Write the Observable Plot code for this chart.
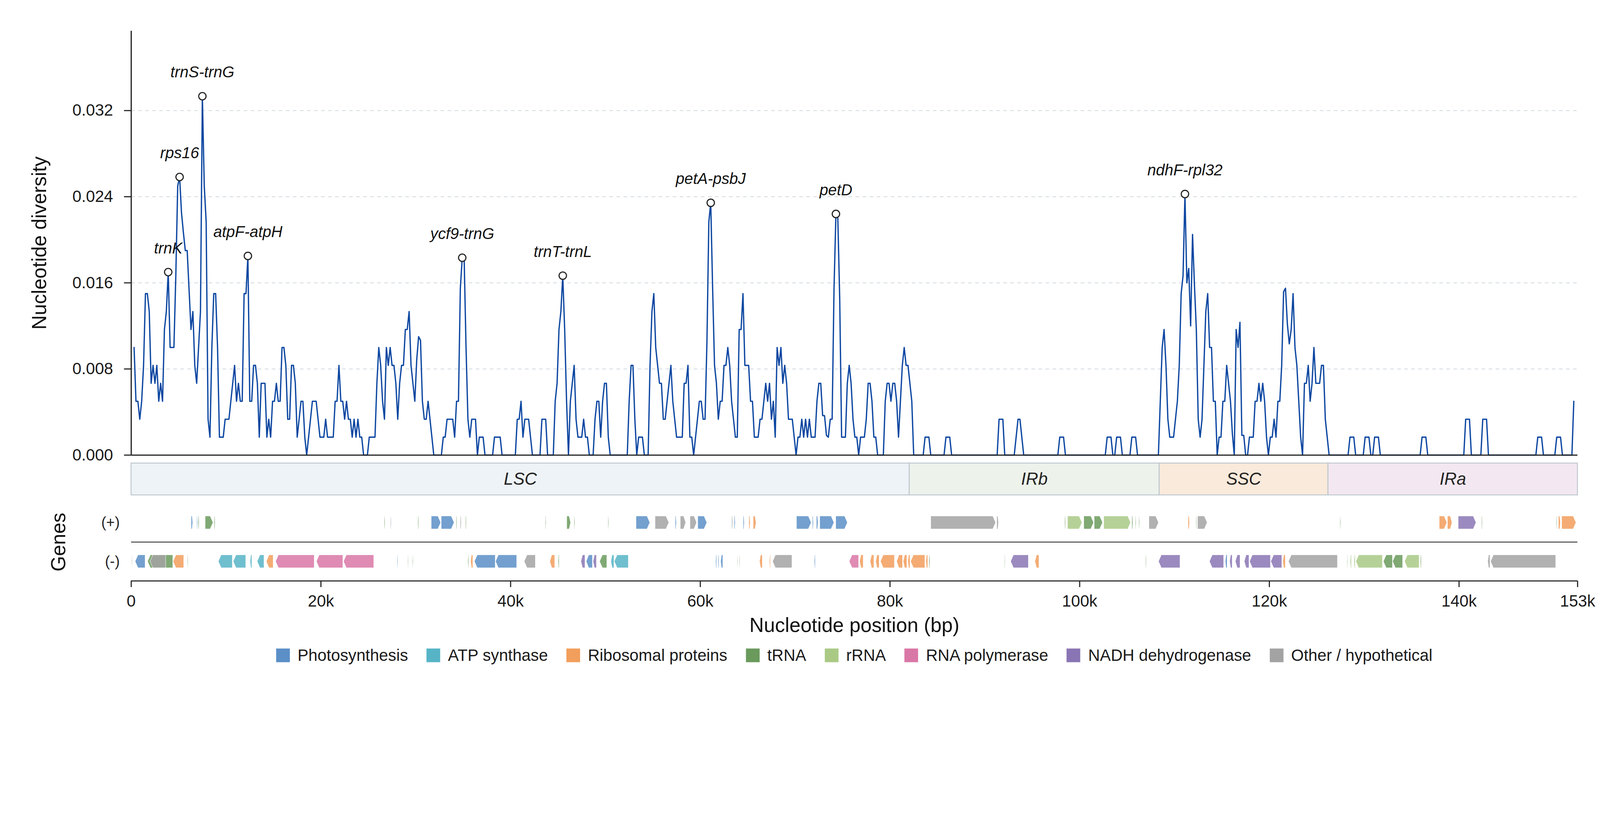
<!DOCTYPE html>
<html><head><meta charset="utf-8">
<script src="https://cdn.jsdelivr.net/npm/d3@7"></script>
<script src="https://cdn.jsdelivr.net/npm/@observablehq/plot@0.6"></script>
<style>
html,body{margin:0;padding:0;background:#fff;overflow:hidden;font-family:"Liberation Sans",Arial,sans-serif;}
#chart{width:4322px;transform-origin:0 0;background:#fff;}
#chart svg{display:block;overflow:visible;}
.legend{display:flex;justify-content:center;align-items:center;column-gap:50px;box-sizing:border-box;width:4322px;padding:0 61px 0 354px;height:60px;font-size:44px;color:#1a1a1a;}
.legend .item{display:flex;align-items:center;white-space:nowrap;}
.legend .sw{width:37px;height:37px;margin-right:21px;}
</style></head><body><div id="chart"></div>
<script>
// ---------------- data ----------------
const genomeLength = 152500;
const windowStart = 300;   // centre of first 600-bp window
const windowStep = 200;    // sliding step
const piUnit = 1 / 600;    // one segregating site per 600-bp window
const piLevels = [
6,3,3,2,3,5,9,9,8,4, 5,4,5,3,4,3,7,8,10.2,6, 6,6,10,15,15.5,13.5,12.4,11.4,11.4,9.2,
7,8,5,4,6,8,20,15,13,2, 1,6,9,9,6,1,1,1,2,2, 2,3,4,5,3,4,3,3,9,9,
11.1,3,3,5,5,4,1,4,4,4, 1,2,1,3,3,4,3,3,6,6, 5,2,2,5,5,4,1,2,3,3,
1,0,1,2,3,3,3,2,1,1, 1,2,1,1,1,1,3,3,5,3, 3,2,3,2,2,1,2,1,2,1,
1,0,0,0,1,1,1,1,4,6, 5,3,2,6,5,6,5,5,4,2, 4,5,5,7,7,8,5,4,3,5.3,
6.6,6.4,3,2,2,3,2,1,0,0, 0,0,0,1,1,2,2,2,2,1, 3,3,9.3,11,11,6,2,1,2,2,
2,0,1,1,1,0,0,0,0,0, 1,1,1,1,0,0,0,0,0,0, 0,0,2,2,3,1,2,2,2,1,
0,0,0,0,0,2,2,2,0,0, 0,0,3,4,7,8,10,7,3,0, 3,4,5,2,1,1,1,2,1,1,
0,0,0,2,3,3,1,3,4,4, 1,0,0,0,0,0,0,0,0,0, 0,3,5,5,2,0,1,1,1,0,
0,0,5,8,9,6,5,4,4,2, 2,3,4,5,3,2,1,1,1,1, 4,4,5,1,1,0,1,2,3,3,
2,2,6.3,13,14.06,9.3,5,4,2,3, 3,5,5,6,5,3,2,1,1,7, 7,9,5,5,5,3,3,1,1,1,
2,2,3,4,3,4,2,3,1,6, 5,6,4,5,4,2,2,2,1,0, 1,1,2,1,2,1,2,1,1,1,
3,4,4,2.2,2.2,1.1,1,2,2,9.3, 13.44,13.2,8.7,1,1,1,4,5,4,2, 1,1,0,1,1,1,2,4,4,3,
1,1,0,0,0,0,3,4,4,3, 4,4,3,1,3,5,6,5,5,4, 3,0,0,0,0,0,0,1,1,1,
0,0,0,0,0,0,0,0,1,1, 1,0,0,0,0,0,0,0,0,0, 0,0,0,0,0,0,0,0,0,0,
0,0,0,0,0,0,2,2,2,0, 0,0,0,0,0,1,2,2,1,0, 0,0,0,0,0,0,0,0,0,0,
0,0,0,0,0,0,0,0,1,1, 1,0,0,0,0,0,0,0,0,0, 0,0,0,0,0,0,0,0,0,0,
0,0,0,1,1,1,0,0,1,1, 1,0,0,0,0,0,1,1,1,0, 0,0,0,0,0,0,0,0,0,0,
0,3,6,7,5,2,1,1,1,2, 3,5,9,10,14.55,9.6,10.4,7.2,12.3,9.5, 7,2,1,2,5,8,9,6,6,3,
3,0,1,1,3,3,5,4,3,1.2, 0,7,6,7.4,1.1,1.1,0,0,1,1, 1,3,3,4,3,4,3,1,0,1,
1,2,1,3,3,5,9.1,9.3,7.3,6.2, 7,9,6,5,3,1,0,4,4,5, 3,4,6,4,4,4,5,5,2,1,
0,0,0,0,0,0,0,0,0,0, 0,1,1,1,0,0,0,0,0,1, 1,1,0,0,1,1,1,0,0,0,
0,0,0,0,0,0,0,0,0,0, 0,0,0,0,0,0,0,0,0,1, 1,1,0,0,0,0,0,0,0,0,
0,0,0,0,0,0,0,0,0,0, 0,0,2,2,2,0,0,0,0,0, 0,2,2,2,0,0,0,0,0,0,
0,0,0,0,0,0,0,0,0,0, 0,0,0,0,0,0,0,0,0,0, 1,1,1,0,0,0,0,0,0,0,
1,1,1,0,0,0,0,0,0,3
];

const hotspotNames = ["trnK","rps16","trnS-trnG","atpF-atpH","ycf9-trnG","trnT-trnL","petA-psbJ","petD","ndhF-rpl32"];
const hotspotPos   = [3900, 5100, 7500, 12300, 34900, 45500, 61100, 74300, 111100];

const regionNames  = ["LSC","IRb","SSC","IRa"];
const regionStart  = [0, 82050, 108400, 126200];
const regionEnd    = [82050, 108400, 126200, 152500];
const regionColors = ["#eef3f7","#edf3eb","#faeadb","#f3e8f1"];

const geneGroups  = ["Photosynthesis","ATP synthase","Ribosomal proteins","tRNA","rRNA","RNA polymerase","NADH dehydrogenase","Other / hypothetical"];
const groupCodes  = ["P","A","R","T","r","N","D","O"];
const groupColors = ["#5b8fc7","#56b4c6","#f29e5c","#6a9a5c","#a9c985","#d977a6","#8a75b4","#a3a3a3"];

// (+) strand genes
const plusStart = [6340,6930,7090,7820,8770,26700,27360,30250,31660,32720,34290,34720,35280,43690,45950,46710,50290,
  53250,55260,57390,57920,58940,59760,63340,63600,64550,65150,65600,70170,71850,72270,72630,74310,84330,91290,
  98450,98750,100460,101560,102560,105530,105890,106260,107330,111460,112300,112460,127470,137940,138810,139940,
  142410,150280,150510,150850];
const plusEnd = [6500,7000,7180,8640,8860,26770,27430,30320,32650,34060,34360,34820,35350,43760,46350,46780,50360,
  54700,56700,57490,58480,59630,60710,63440,63700,64650,65280,65900,71710,71940,72440,74110,75530,91160,91460,
  98520,100260,101490,102430,105390,105630,105960,106330,108330,111600,112360,113460,127540,138740,139280,141810,
  142480,150350,150710,152350];
const plusGroup = ["P","P","T","T","T","T","O","T","P","P","T","O","T","T","T","T","T",
  "P","O","P","O","O","P","O","P","P","R","R","P","P","P","P","P","O","O",
  "T","r","T","T","r","T","T","T","O","R","T","O","T","R","R","D",
  "T","T","R","R"];

// (-) strand genes
const minusStart = [60,430,1740,2000,4430,5940,9200,10770,12550,13300,14260,15240,19540,22400,28050,29170,29630,29760,
  35510,35800,36200,38430,41450,44150,45030,47430,47990,48710,49400,50590,50950,61630,61890,62160,63900,64130,
  66260,67310,67640,72040,75720,76810,77920,78510,79010,80720,81410,81900,82190,83800,84130,92080,92740,95300,
  106960,108330,113700,115370,115830,116430,117370,117930,120170,121430,122030,128200,128540,128940,129140,
  132040,133010,134270,135940,143040,143340];
const minusEnd = [130,1480,4400,3650,5550,6010,10680,12090,12740,14020,14980,19310,22330,25590,28120,29230,29690,29820,
  35600,36030,38400,40660,42630,44670,45130,47860,48650,49070,50160,50920,52430,61730,61990,62390,63960,64190,
  66560,67410,69680,72140,76710,77200,78320,78880,80490,81340,81800,82130,83700,84000,84230,92150,94610,95730,
  107030,110600,115200,115570,116100,116930,117870,120130,121330,121700,127200,128270,128670,129070,131940,
  133000,134070,135810,136040,143280,150210];
const minusGroup = ["T","P","T","O","R","T","A","A","A","A","R","N","N","N","P","T","T","T",
  "T","R","P","P","O","R","T","D","P","D","T","A","A","P","P","P","T","T",
  "R","R","O","P","N","R","R","R","R","R","R","R","R","R","T","T","D","R",
  "T","D","D","P","D","D","D","D","D","R","O","T","r","r","r",
  "T","T","r","T","O","O"];

const yTicks = [0, 0.008, 0.016, 0.024, 0.032];
const xTickValues = [0, 20000, 40000, 60000, 80000, 100000, 120000, 140000, 152500];
const xTickLabels = ["0","20k","40k","60k","80k","100k","120k","140k","153k"];

// ---------------- build tables ----------------
const diversity = piLevels.map((k, i) => ({pos: windowStart + i * windowStep, pi: k * piUnit}));
const hotspots = hotspotNames.map((name, j) => {
  const d = diversity.find(e => e.pos === hotspotPos[j]);
  return {name, pos: d.pos, pi: d.pi};
});
const regions = regionNames.map((name, i) => ({name, start: regionStart[i], end: regionEnd[i], color: regionColors[i]}));

// track layout (vertical units of the gene panel)
const track = {regionTop: 0, regionBottom: 86, plusTop: 143, plusBottom: 178, separator: 213, minusTop: 248, minusBottom: 283, axis: 318};

const colorOf = code => groupColors[groupCodes.indexOf(code)];
function arrowVerts(start, end, strand, code, id) {
  const t = strand > 0 ? track.plusTop : track.minusTop;
  const b = strand > 0 ? track.plusBottom : track.minusBottom;
  const mid = (t + b) / 2;
  const h = Math.min(300, (end - start) * 0.4);
  const color = colorOf(code);
  if (strand > 0) return [
    {id, color, x: start, y1: b, y2: t},
    {id, color, x: end - h, y1: b, y2: t},
    {id, color, x: end, y1: mid, y2: mid}];
  return [
    {id, color, x: start, y1: mid, y2: mid},
    {id, color, x: start + h, y1: b, y2: t},
    {id, color, x: end, y1: b, y2: t}];
}
const geneVerts = [];
plusStart.forEach((s, i) => geneVerts.push(...arrowVerts(s, plusEnd[i], 1, plusGroup[i], "p" + i)));
minusStart.forEach((s, i) => geneVerts.push(...arrowVerts(s, minusEnd[i], -1, minusGroup[i], "m" + i)));

// ---------------- plots ----------------
const W = 4322, ML = 354, MR = 61;
const font = '"Liberation Sans", Arial, sans-serif';

const topPlot = Plot.plot({
  width: W, height: 1240,
  marginLeft: ML, marginRight: MR, marginTop: 83, marginBottom: 11,
  style: {fontFamily: font, fontSize: "44px", color: "#1a1a1a", background: "transparent", maxWidth: "none", overflow: "visible"},
  x: {domain: [0, genomeLength], axis: null},
  y: {domain: [0, 0.0394]},
  marks: [
    Plot.gridY(yTicks.filter(d => d > 0), {stroke: "#d6dde3", strokeOpacity: 1, strokeWidth: 2.5, strokeDasharray: "10,9"}),
    Plot.line(diversity, {x: "pos", y: "pi", stroke: "#0d47a1", strokeWidth: 3.5}),
    Plot.ruleY([0], {stroke: "#222", strokeWidth: 3}),
    Plot.ruleX([0], {stroke: "#222", strokeWidth: 3.3}),
    Plot.axisY({ticks: yTicks, tickFormat: d3.format(".3f"), tickSize: 19, tickPadding: 30, fontSize: 44, strokeWidth: 3, stroke: "#222", label: null}),
    Plot.dot(hotspots, {x: "pos", y: "pi", r: 10, fill: "white", stroke: "#222", strokeWidth: 3}),
    Plot.text(hotspots, {x: "pos", y: "pi", text: "name", dy: -64, fontSize: 42, fontStyle: "italic", fill: "#111"}),
    Plot.text(["Nucleotide diversity"], {frameAnchor: "left", textAnchor: "middle", lineAnchor: "middle", dx: -247, rotate: -90, fontSize: 54, fill: "#111"})
  ]
});

const bottomPlot = Plot.plot({
  width: W, height: 500,
  marginLeft: ML, marginRight: MR, marginTop: 11, marginBottom: 171,
  style: {fontFamily: font, fontSize: "44px", color: "#1a1a1a", background: "transparent", maxWidth: "none", overflow: "visible"},
  x: {domain: [0, genomeLength]},
  y: {domain: [0, track.axis], range: [11, 329], axis: null},
  color: {type: "identity"},
  marks: [
    Plot.rect(regions, {x1: "start", x2: "end", y1: track.regionTop, y2: track.regionBottom, fill: "color", stroke: "#bcc6ce", strokeWidth: 2.5}),
    Plot.text(regions, {x: d => (d.start + d.end) / 2, y: (track.regionTop + track.regionBottom) / 2, text: "name", fontSize: 46, fontStyle: "italic", fill: "#222"}),
    Plot.areaY(geneVerts, {x: "x", y1: "y1", y2: "y2", z: "id", fill: "color", fillOpacity: 0.85, stroke: "white", strokeWidth: 1, curve: "linear"}),
    Plot.ruleY([track.separator], {stroke: "#333", strokeWidth: 2.5}),
    Plot.ruleY([track.axis], {stroke: "#222", strokeWidth: 3}),
    Plot.axisX({ticks: xTickValues, tickFormat: d => xTickLabels[xTickValues.indexOf(d)], tickSize: 17, tickPadding: 21, fontSize: 44, strokeWidth: 3, stroke: "#222", label: null}),
    Plot.text(["(+)", "(-)"], {frameAnchor: "left", y: [(track.plusTop + track.plusBottom) / 2, (track.minusTop + track.minusBottom) / 2], text: d => d, textAnchor: "end", lineAnchor: "middle", dx: -31, fontSize: 40, fill: "#222"}),
    Plot.text(["Genes"], {frameAnchor: "left", y: [track.separator], textAnchor: "middle", lineAnchor: "middle", dx: -196, rotate: -90, fontSize: 54, fill: "#111"}),
    Plot.text(["Nucleotide position (bp)"], {frameAnchor: "bottom", textAnchor: "middle", lineAnchor: "middle", dy: 121, fontSize: 54, fill: "#111"})
  ]
});

const chart = document.getElementById("chart");
chart.appendChild(topPlot);
chart.appendChild(bottomPlot);

const legend = document.createElement("div");
legend.className = "legend";
geneGroups.forEach((g, i) => {
  const item = document.createElement("div");
  item.className = "item";
  const sw = document.createElement("span");
  sw.className = "sw";
  sw.style.background = groupColors[i];
  const label = document.createElement("span");
  label.textContent = g;
  item.appendChild(sw); item.appendChild(label);
  legend.appendChild(item);
});
chart.appendChild(legend);

// fit the 4322-px design to the actual viewport width
function fit() {
  const vw = document.documentElement.clientWidth || window.innerWidth || W;
  chart.style.transform = `scale(${vw / W})`;
}
fit();
window.addEventListener("resize", fit);
</script></body></html>
